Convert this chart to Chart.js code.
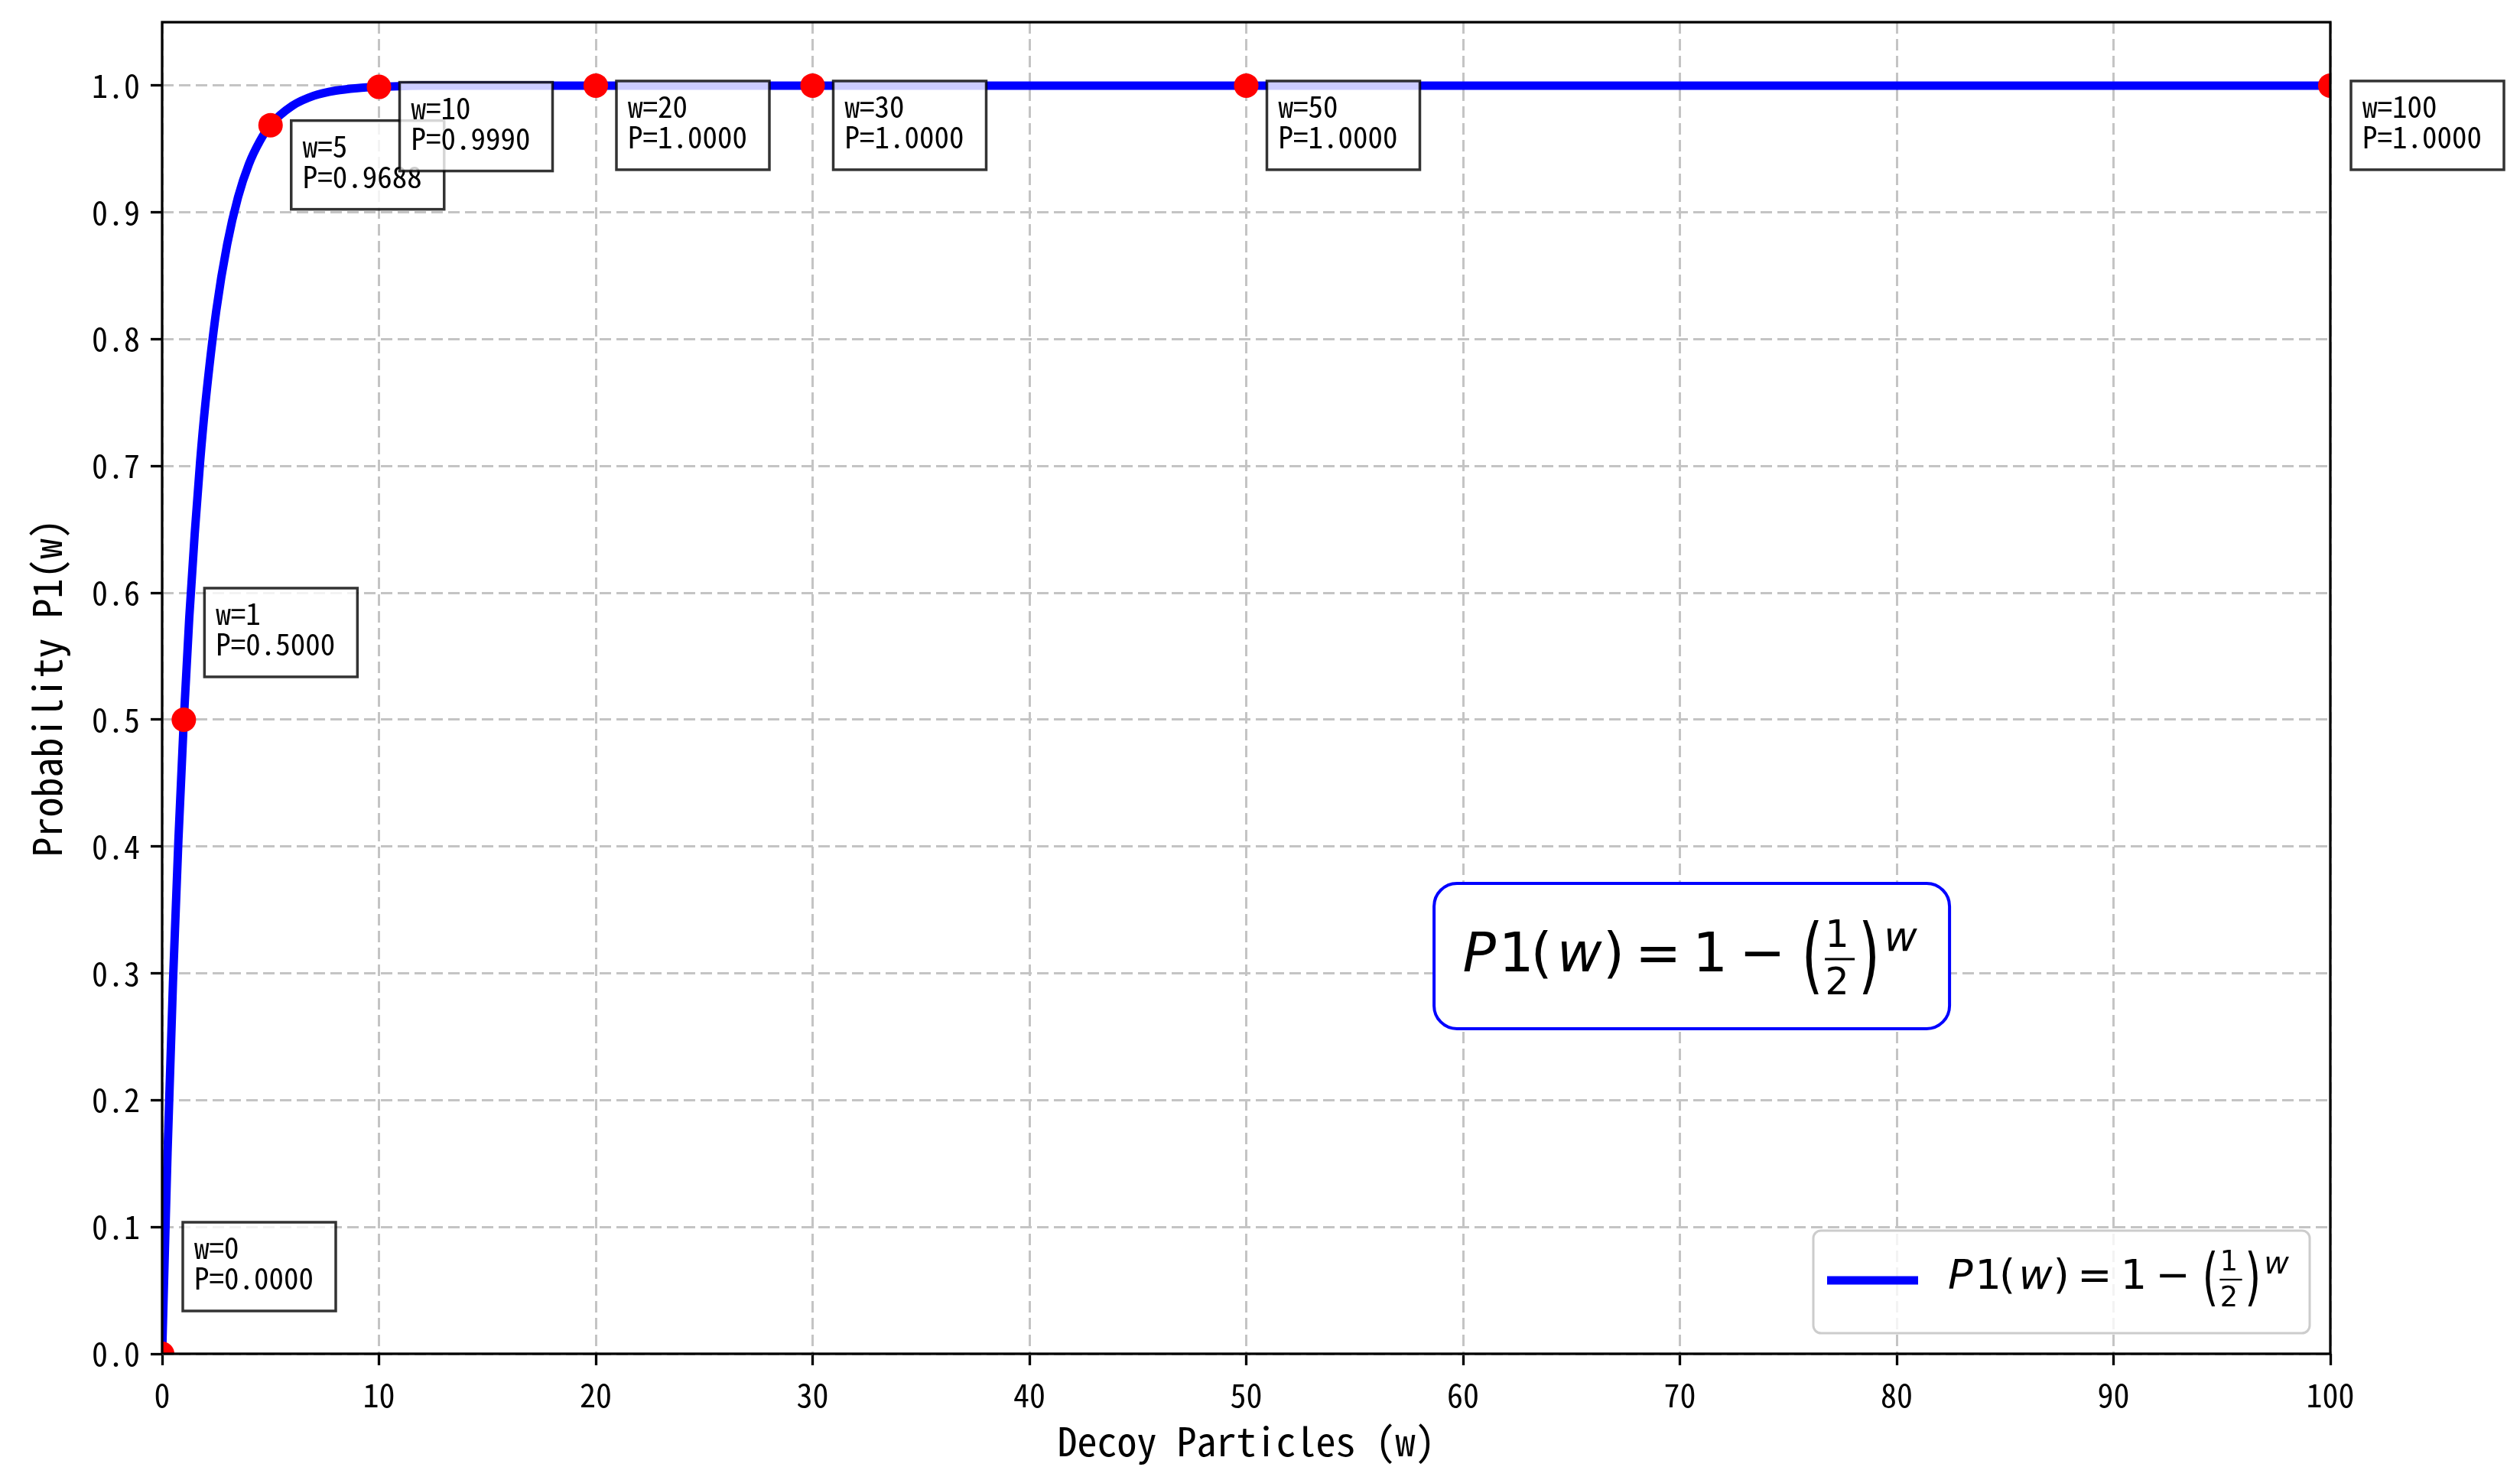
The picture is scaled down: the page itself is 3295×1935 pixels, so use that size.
<!DOCTYPE html>
<html><head><meta charset="utf-8">
<script src="https://cdn.jsdelivr.net/npm/chart.js@4/dist/chart.umd.min.js"></script>
<style>html,body{margin:0;padding:0;background:#fff;}canvas{display:block;}</style>
</head><body>
<canvas id="c" width="3295" height="1935"></canvas>
<script>
// ---- data ----
const curveW = [0, 0.25, 0.5, 0.75, 1, 1.25, 1.5, 1.75, 2, 2.5, 3, 3.5, 4, 4.5, 5, 6, 7, 8, 9, 10, 12, 15, 20, 30, 50, 100];
const curveP = [0, 0.159, 0.293, 0.405, 0.5, 0.580, 0.646, 0.703, 0.75, 0.823, 0.875, 0.912, 0.938, 0.956, 0.969, 0.984, 0.992, 0.996, 0.998, 0.999, 1.0, 1.0, 1.0, 1.0, 1.0, 1.0];
const markW = [0, 1, 5, 10, 20, 30, 50, 100];
const markP = [0.0000, 0.5000, 0.9688, 0.9990, 1.0000, 1.0000, 1.0000, 1.0000];
const xTicks = [0, 10, 20, 30, 40, 50, 60, 70, 80, 90, 100];
const yTicks = [0.0, 0.1, 0.2, 0.3, 0.4, 0.5, 0.6, 0.7, 0.8, 0.9, 1.0];
const xTitle = 'Decoy Particles (w)';
const yTitle = 'Probability P1(w)';

const MONO = '"Noto Sans Mono CJK SC", "Noto Sans CJK SC", "DejaVu Sans Mono", monospace';
const MATHF = '"DejaVu Sans"';

function drawFormula(ctx, cx, base, S) {
  const k = S / 72;
  const main = [
    {t: 'P', it: true, x: -278},
    {t: '1', x: -229.5},
    {t: '(', x: -196.5},
    {t: 'w', it: true, x: -147},
    {t: ')', x: -102},
    {t: '=', x: -44},
    {t: '1', x: 24},
    {t: '\u2212', x: 92}
  ];
  ctx.fillStyle = '#000';
  ctx.textAlign = 'center';
  ctx.textBaseline = 'alphabetic';
  for (const p of main) {
    ctx.font = (p.it ? 'italic ' : '') + S + 'px ' + MATHF;
    ctx.fillText(p.t, cx + p.x * k, base);
  }
  // tall parentheses
  ctx.font = S + 'px ' + MATHF;
  for (const [t, xx] of [['(', 157.5], [')', 232]]) {
    ctx.save();
    ctx.translate(cx + xx * k, base - 18.5 * k);
    ctx.scale(1, 1.52);
    ctx.fillText(t, 0, 0.315 * S);
    ctx.restore();
  }
  // fraction 1/2
  ctx.font = (0.68 * S) + 'px ' + MATHF;
  ctx.fillText('1', cx + 190 * k, base - 32 * k);
  ctx.fillText('2', cx + 190 * k, base + 30 * k);
  ctx.fillRect(cx + 174 * k, base - 17.5 * k, 39 * k, 3 * k);
  // superscript w
  ctx.font = 'italic ' + (0.74 * S) + 'px ' + MATHF;
  ctx.fillText('w', cx + 273 * k, base - 27 * k);
}

function roundRect(ctx, x, y, w, h, r) {
  ctx.beginPath();
  ctx.moveTo(x + r, y);
  ctx.lineTo(x + w - r, y);
  ctx.arcTo(x + w, y, x + w, y + r, r);
  ctx.lineTo(x + w, y + h - r);
  ctx.arcTo(x + w, y + h, x + w - r, y + h, r);
  ctx.lineTo(x + r, y + h);
  ctx.arcTo(x, y + h, x, y + h - r, r);
  ctx.lineTo(x, y + r);
  ctx.arcTo(x, y, x + r, y, r);
  ctx.closePath();
}

const decor = {
  id: 'decor',
  afterDatasetsDraw(chart) {
    const {ctx, chartArea: a, scales: {x, y}} = chart;
    ctx.save();
    // frame (all four spines)
    ctx.strokeStyle = '#000';
    ctx.lineWidth = 3.3;
    ctx.strokeRect(a.left, a.top, a.right - a.left, a.bottom - a.top);

    // point annotations
    markW.forEach((w, i) => {
      const p = markP[i];
      const px = x.getPixelForValue(w), py = y.getPixelForValue(p);
      const bw = 200, bh = 116;
      const left = px + 27;
      const top = p < 0.9 ? py - 56 - bh : py - 6;
      ctx.fillStyle = 'rgba(255,255,255,0.8)';
      ctx.fillRect(left, top, bw, bh);
      ctx.strokeStyle = 'rgba(0,0,0,0.8)';
      ctx.lineWidth = 3.5;
      ctx.strokeRect(left, top, bw, bh);
      ctx.fillStyle = '#000';
      ctx.font = '39px ' + MONO;
      ctx.textAlign = 'left';
      ctx.textBaseline = 'alphabetic';
      ctx.fillText('w=' + w, left + 15, top + 48);
      ctx.fillText('P=' + p.toFixed(4), left + 15, top + 88);
    });

    // formula box
    const fcx = a.left + 0.7055 * (a.right - a.left);
    const fcy = a.bottom - 0.2987 * (a.bottom - a.top);
    roundRect(ctx, fcx - 337, fcy - 95, 674, 190, 30);
    ctx.fillStyle = '#fff';
    ctx.fill();
    ctx.strokeStyle = '#0000ff';
    ctx.lineWidth = 4;
    ctx.stroke();
    drawFormula(ctx, fcx, fcy + 20, 72);

    // legend
    const lw = 649, lh = 134;
    const lx = a.right - 27 - lw, ly = a.bottom - 27 - lh;
    roundRect(ctx, lx, ly, lw, lh, 10);
    ctx.fillStyle = 'rgba(255,255,255,0.8)';
    ctx.fill();
    ctx.strokeStyle = '#cccccc';
    ctx.lineWidth = 3;
    ctx.stroke();
    ctx.strokeStyle = '#0000ff';
    ctx.lineWidth = 11;
    ctx.beginPath();
    ctx.moveTo(lx + 18, ly + 65);
    ctx.lineTo(lx + 137, ly + 65);
    ctx.stroke();
    drawFormula(ctx, lx + 180 + 4.09 * 54, ly + 76, 54);
    ctx.restore();
  }
};

new Chart(document.getElementById('c'), {
  type: 'line',
  data: {
    datasets: [
      {
        label: 'points',
        data: markW.map((w, i) => ({x: w, y: markP[i]})),
        showLine: false,
        pointRadius: 16,
        pointBackgroundColor: '#ff0000',
        pointBorderWidth: 0,
        order: 0,
        clip: 0
      },
      {
        label: 'P1(w) = 1 - (1/2)^w',
        data: curveW.map((w, i) => ({x: w, y: curveP[i]})),
        borderColor: '#0000ff',
        borderWidth: 11,
        pointRadius: 0,
        cubicInterpolationMode: 'monotone',
        fill: false,
        order: 1,
        clip: 0
      }
    ]
  },
  options: {
    responsive: false,
    animation: false,
    devicePixelRatio: 1,
    layout: {padding: {left: 0, top: 29, right: 248, bottom: 0}},
    plugins: {legend: {display: false}, tooltip: {enabled: false}},
    scales: {
      x: {
        type: 'linear', min: 0, max: 100,
        afterBuildTicks: s => { s.ticks = xTicks.map(v => ({value: v})); },
        afterFit: s => { s.height = 165; s.paddingLeft = 0; s.paddingRight = 0; },
        ticks: {font: {family: MONO, size: 42}, color: '#000', padding: 14, maxRotation: 0, autoSkip: false, callback: v => String(v)},
        grid: {color: '#c4c4c4', lineWidth: 3, tickColor: '#000', tickWidth: 3.3, tickLength: 15, tickBorderDash: []},
        border: {display: false, dash: [15, 7]},
        title: {display: true, text: xTitle, font: {family: MONO, size: 52}, color: '#000', padding: {top: 0, bottom: 20}}
      },
      y: {
        type: 'linear', min: 0, max: 1.05,
        afterBuildTicks: s => { s.ticks = yTicks.map(v => ({value: v})); },
        afterFit: s => { s.width = 212; s.paddingTop = 0; s.paddingBottom = 0; },
        ticks: {font: {family: MONO, size: 42}, color: '#000', padding: 14, autoSkip: false, callback: v => Number(v).toFixed(1)},
        grid: {color: '#c4c4c4', lineWidth: 3, tickColor: '#000', tickWidth: 3.3, tickLength: 15, tickBorderDash: []},
        border: {display: false, dash: [15, 7]},
        title: {display: true, text: yTitle, font: {family: MONO, size: 52}, color: '#000', padding: {top: 30, bottom: 0}}
      }
    }
  },
  plugins: [decor]
});
</script>
</body></html>
